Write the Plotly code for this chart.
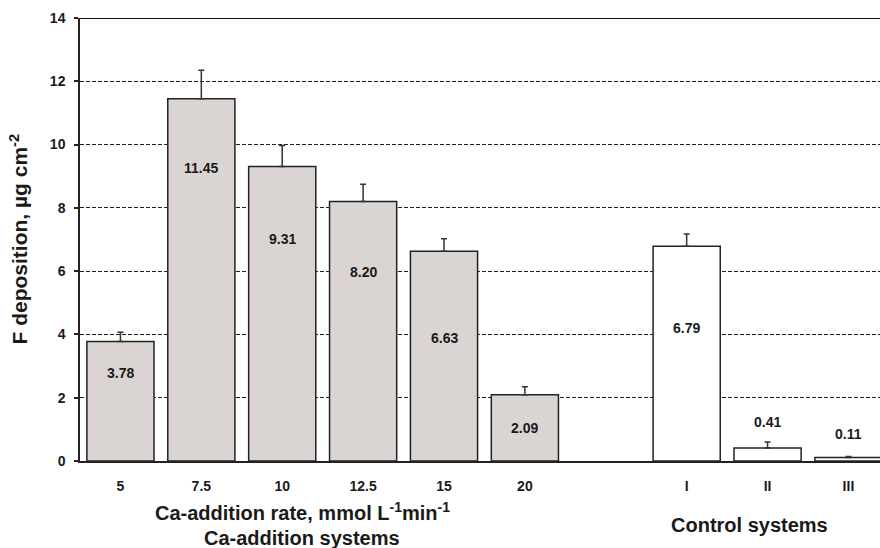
import plotly.graph_objects as go

# ---- data ----
ca_rates = ["5", "7.5", "10", "12.5", "15", "20"]
ca_values = [3.78, 11.45, 9.31, 8.20, 6.63, 2.09]
ca_errors = [0.29, 0.90, 0.66, 0.55, 0.39, 0.26]

control_labels = ["I", "II", "III"]
control_values = [6.79, 0.41, 0.11]
control_errors = [0.38, 0.19, 0.03]

gap_label = " "
category_order = ca_rates + [gap_label] + control_labels

# where the value labels sit (data units), as placed in the original
ca_label_y = [2.78, 9.27, 7.01, 5.96, 3.90, 1.05]
control_label_y = [4.19, 1.22, 0.84]

y_ticks = [0, 2, 4, 6, 8, 10, 12, 14]

FONT = "Liberation Sans, Arial, sans-serif"
TXT = "#1a1a1a"

fig = go.Figure()

fig.add_trace(go.Bar(
    x=ca_rates, y=ca_values,
    marker=dict(color="#dad4d2", line=dict(color="#222222", width=1.5)),
    error_y=dict(type="data", symmetric=False, array=ca_errors,
                 arrayminus=[0] * len(ca_errors),
                 color="#333333", thickness=1.5, width=3),
    width=0.83, showlegend=False, hoverinfo="skip",
))
fig.add_trace(go.Bar(
    x=control_labels, y=control_values,
    marker=dict(color="#ffffff", line=dict(color="#222222", width=1.5)),
    error_y=dict(type="data", symmetric=False, array=control_errors,
                 arrayminus=[0] * len(control_errors),
                 color="#333333", thickness=1.5, width=3),
    width=0.83, showlegend=False, hoverinfo="skip",
))

annotations = []
label_font = dict(family=FONT, size=14, color=TXT, weight="bold")
for cat, v, ly in zip(ca_rates + control_labels,
                      ca_values + control_values,
                      ca_label_y + control_label_y):
    annotations.append(dict(x=category_order.index(cat), y=ly, xref="x", yref="y",
                            text=f"{v:.2f}", showarrow=False, font=label_font))

title_font = dict(family=FONT, size=20, color=TXT, weight="bold")
annotations += [
    dict(text="Ca-addition rate, mmol L<sup>-1</sup>min<sup>-1</sup>", xref="paper", yref="paper",
         x=0.2775, y=-0.115, showarrow=False, font=title_font, xanchor="center", yanchor="middle"),
    dict(text="Ca-addition systems", xref="paper", yref="paper",
         x=0.2775, y=-0.1728, showarrow=False, font=title_font, xanchor="center", yanchor="middle"),
    dict(text="Control systems", xref="paper", yref="paper",
         x=0.8369, y=-0.1445, showarrow=False, font=title_font, xanchor="center", yanchor="middle"),
    dict(text="F deposition, µg cm<sup>-2</sup>", xref="paper", yref="paper",
         x=-0.0775, y=0.5, textangle=-90, showarrow=False,
         font=dict(family=FONT, size=21, color=TXT, weight="bold"),
         xanchor="center", yanchor="middle"),
]

fig.update_layout(
    width=880, height=548,
    margin=dict(l=80, r=0, t=18, b=87),
    paper_bgcolor="white", plot_bgcolor="white",
    barmode="overlay",
    annotations=annotations,
    shapes=[dict(type="line", xref="paper", yref="y", x0=0, x1=1, y0=14, y1=14,
                 line=dict(color="#111111", width=2.2))],
)

fig.update_xaxes(
    type="category", categoryorder="array", categoryarray=category_order,
    range=[-0.5, 9.39],
    showline=True, linecolor="#222222", linewidth=1.5,
    ticks="", showgrid=False, zeroline=False,
    tickfont=dict(family=FONT, size=14, color=TXT, weight="bold"),
    ticklabelstandoff=11,
)
fig.update_yaxes(
    range=[0, 14], tickvals=y_ticks,
    showline=True, linecolor="#222222", linewidth=1.5,
    ticks="outside", ticklen=4, tickwidth=1.5, tickcolor="#222222",
    showgrid=True, gridcolor="#222222", gridwidth=1, griddash="4px,2px",
    zeroline=False,
    tickfont=dict(family=FONT, size=14, color=TXT, weight="bold"),
    ticklabelstandoff=6,
)

fig.write_html("out.html", config={"displayModeBar": False},
               post_script="document.body.style.margin='0';document.body.style.overflow='hidden';")
